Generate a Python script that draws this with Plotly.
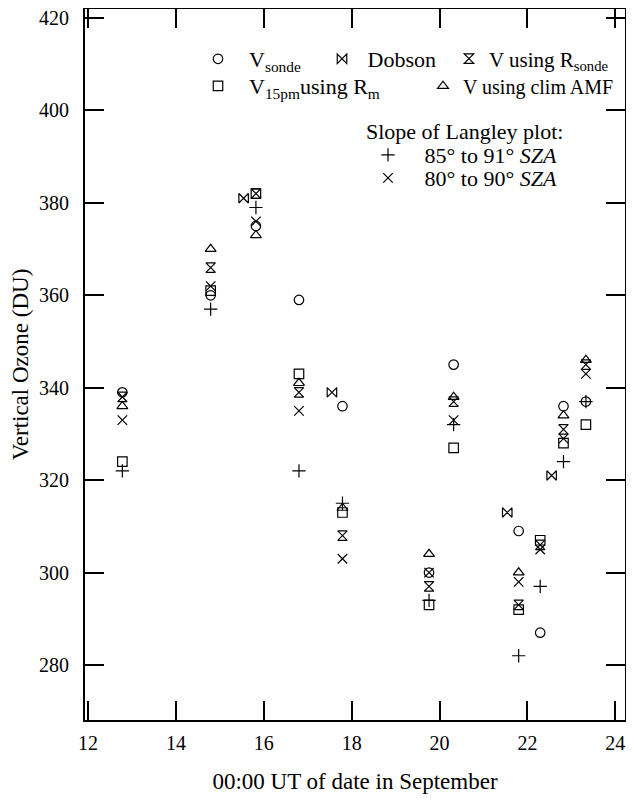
import plotly.graph_objects as go

# ---- data ----
dates = [12.78, 14.79, 15.82, 16.80, 17.79, 19.76, 20.32, 21.80, 22.29, 22.82, 23.33]
v_sonde = [339, 360, 375, 359, 336, 300, 345, 309, 287, 336, 337]
dobson_dates = [15.54, 17.55, 21.54, 22.55]
dobson = [381, 339, 313, 321]
v_r_sonde = [338, 366, 382, 339, 308, 297, 337, 293, 306, 331, 345]
v_15pm_rm = [324, 361, 382, 343, 313, 293, 327, 292, 307, 328, 332]
v_clim_amf = [336, 370, 373, 341, 314, 304, 338, 300, None, 334, 346]
langley_85_91 = [322, 357, 379, 322, 315, 294, 332, 282, 297, 324, 337]
langley_80_90 = [333, 362, 376, 335, 303, 300, 333, 298, 305, 329, 343]

x_ticks = [12, 14, 16, 18, 20, 22, 24]
y_ticks = [280, 300, 320, 340, 360, 380, 400, 420]

FONT = "Liberation Serif"
NB = "\u00a0"

series = [
    (NB * 2 + "V<sub>sonde</sub>", dates, v_sonde, "circle-open", "legend", 22),
    (NB + "Dobson", dobson_dates, dobson, "bowtie-open", "legend2", 22),
    ("V using R<sub>sonde</sub>", dates, v_r_sonde, "hourglass-open", "legend3", 21),
    (NB * 2 + "V<sub>15pm</sub>using R<sub>m</sub>", dates, v_15pm_rm, "square-open", "legend4", 22),
    ("V using clim AMF", dates, v_clim_amf, "triangle-up-open", "legend5", 20),
    (NB * 3 + "85° to 91° <i>SZA</i>", dates, langley_85_91, "cross-thin-open", "legend6", 22),
    (NB * 3 + "80° to 90° <i>SZA</i>", dates, langley_80_90, "x-thin-open", "legend7", 22),
]

fig = go.Figure()
for name, xs, ys, sym, leg, _ in series:
    fig.add_trace(go.Scatter(
        x=xs, y=ys, mode="markers", name=name, legend=leg, showlegend=True,
        marker=dict(symbol=sym, size=9.5, color="black", line=dict(color="black", width=1.2)),
    ))

# the page body adds an 8px margin and the visible page ends 8px before the window edge
OFF = 8
FIG_W, FIG_H = 634 - 2 * OFF, 786
# plot area geometry in page px (for placing legends)
L, T, W, H = 85, 9, 540, 711
def px(xp):
    return (xp - L) / W
def py(yp):
    return 1 - (yp - T) / H

legend_pos = {
    "legend": (218, 59), "legend2": (342, 59), "legend3": (469, 59),
    "legend4": (218, 86), "legend5": (443, 86),
    "legend6": (388, 155), "legend7": (388, 178),
}
legend_layout = {}
for name, xs, ys, sym, leg, fsize in series:
    sx, sy = legend_pos[leg]
    legend_layout[leg] = dict(
        x=px(sx - 20), y=py(sy), xanchor="left", yanchor="middle",
        bgcolor="rgba(0,0,0,0)", borderwidth=0,
        font=dict(family=FONT, size=fsize, color="black"),
    )

fig.update_layout(
    width=FIG_W, height=FIG_H,
    margin=dict(l=L - OFF, r=FIG_W - (L - OFF) - W, t=T - OFF, b=FIG_H - (T - OFF) - H,
                autoexpand=False),
    paper_bgcolor="white", plot_bgcolor="white",
    font=dict(family=FONT, size=20, color="black"),
    **legend_layout,
    annotations=[dict(
        text="Slope of Langley plot:", x=px(464), y=py(131), xref="paper", yref="paper",
        showarrow=False, font=dict(family=FONT, size=22, color="black"),
        xanchor="center", yanchor="middle",
    )],
)

axis_common = dict(
    showgrid=False, zeroline=False, showline=True, linecolor="black", linewidth=2,
    mirror="ticks", ticks="inside", ticklen=19, tickwidth=2, tickcolor="black",
    tickfont=dict(family=FONT, size=20, color="black"), automargin=False,
    ticklabeloverflow="allow",
)
fig.update_xaxes(
    range=[11.93, 24.22], tickvals=x_ticks, ticktext=[str(v) for v in x_ticks],
    ticklabelstandoff=4,
    title=dict(text="00:00 UT of date in September", font=dict(family=FONT, size=23), standoff=20),
    **axis_common,
)
fig.update_yaxes(
    range=[268.1, 421.95], tickvals=y_ticks, ticktext=[str(v) for v in y_ticks],
    ticklabelstandoff=10,
    title=dict(text="Vertical Ozone (DU)", font=dict(family=FONT, size=23), standoff=13),
    **axis_common,
)

fig.write_html("out.html")
